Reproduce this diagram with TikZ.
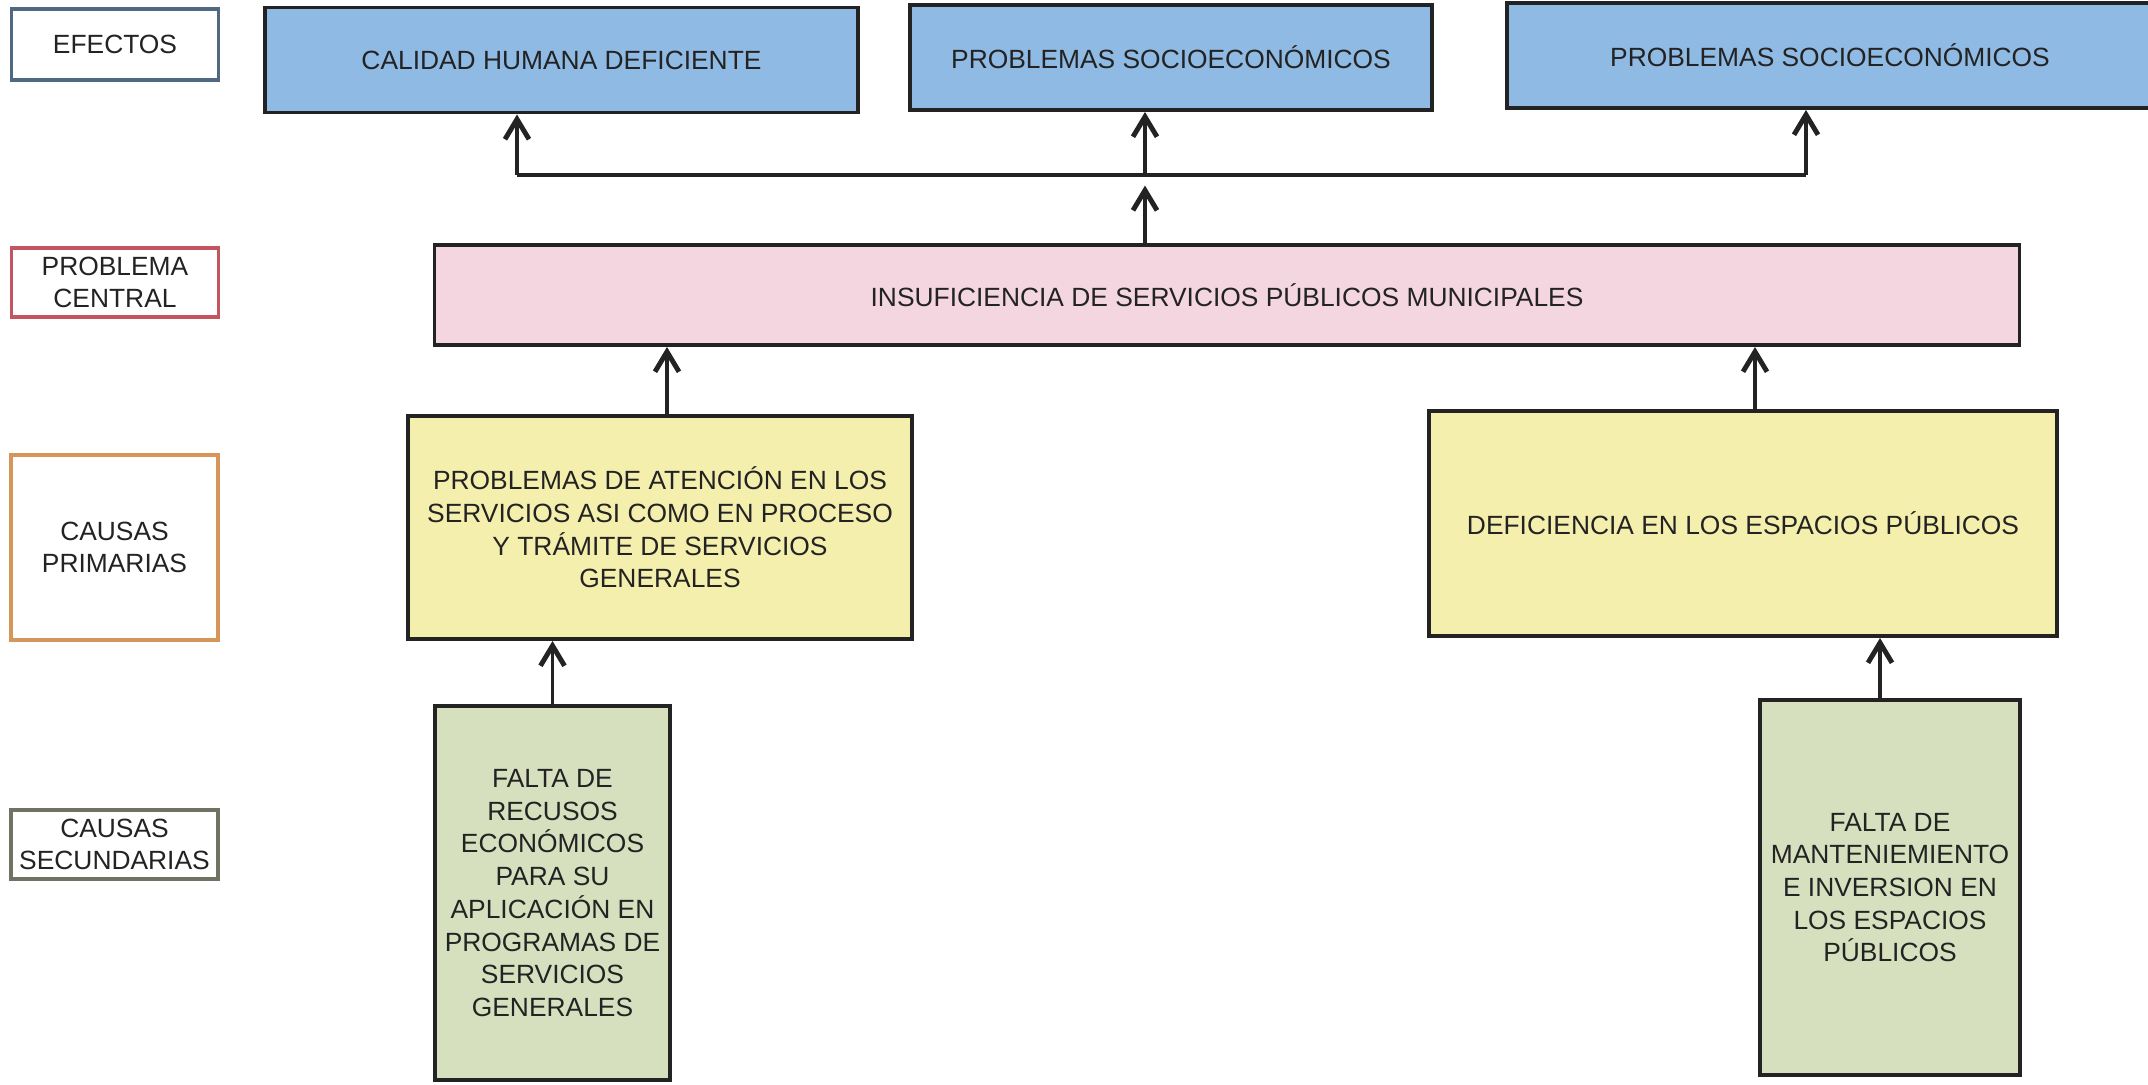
\documentclass[tikz,border=0pt]{standalone}
\usepackage{fontspec}
\setmainfont{Liberation Sans}
\usetikzlibrary{arrows.meta}
\definecolor{azul}{RGB}{143,186,228}
\definecolor{rosa}{RGB}{243,214,224}
\definecolor{amarillo}{RGB}{245,239,174}
\definecolor{verde}{RGB}{214,224,190}
\definecolor{bordeA}{RGB}{80,105,130}
\definecolor{bordeR}{RGB}{196,84,96}
\definecolor{bordeN}{RGB}{214,150,90}
\definecolor{bordeV}{RGB}{110,115,100}
\definecolor{tinta}{RGB}{35,35,35}
\begin{document}
\begin{tikzpicture}[x=0.01cm,y=-0.01cm,
  caja/.style={draw=tinta,line width=1.1pt,text=tinta,align=center,inner sep=2pt,
    font=\fontsize{7.5}{9.3}\selectfont},
  efecto/.style={caja,fill=azul,minimum height=1.05cm},
  leyenda/.style={line width=0.9pt,fill=white,text=tinta,align=center,inner sep=1pt,
    minimum width=2.07cm,font=\fontsize{7.5}{9.2}\selectfont},
  linea/.style={draw=tinta,line width=0.9pt},
  flecha/.style={linea,-{Straight Barb[length=2mm,width=2.4mm,line width=1.4pt]}}]
\useasboundingbox (0,0) rectangle (2148,1085);

% leyenda
\node[leyenda,draw=bordeA,minimum height=0.71cm] (lefe) at (115,44.5) {EFECTOS};
\node[leyenda,draw=bordeR,minimum height=0.69cm] (lcen) at (115,282.5) {PROBLEMA\\CENTRAL};
\node[leyenda,draw=bordeN,minimum height=1.85cm] (lpri) at (114.5,547.5) {CAUSAS\\PRIMARIAS};
\node[leyenda,draw=bordeV,minimum height=0.69cm] (lsec) at (114.5,844.5) {CAUSAS\\SECUNDARIAS};

% efectos
\node[efecto,minimum width=5.93cm] (ef1) at (561.5,60) {CALIDAD HUMANA DEFICIENTE};
\node[efecto,minimum width=5.22cm] (ef2) at (1171,57.5) {PROBLEMAS SOCIOECONÓMICOS};
\node[efecto,minimum width=6.46cm] (ef3) at (1830,55.5) {PROBLEMAS SOCIOECONÓMICOS};

% problema central
\node[caja,fill=rosa,minimum width=15.84cm,minimum height=1cm] (central) at (1227,295)
  {INSUFICIENCIA DE SERVICIOS PÚBLICOS MUNICIPALES};

% causas
\node[caja,fill=amarillo,minimum width=5.04cm,minimum height=2.23cm] (pri1) at (660,527.5)
  {PROBLEMAS DE ATENCIÓN EN LOS\\SERVICIOS ASI COMO EN PROCESO\\Y TRÁMITE DE SERVICIOS\\GENERALES};
\node[caja,fill=amarillo,minimum width=6.28cm,minimum height=2.25cm] (pri2) at (1743,523.5)
  {DEFICIENCIA EN LOS ESPACIOS PÚBLICOS};
\node[caja,fill=verde,minimum width=2.35cm,minimum height=3.74cm] (sec1) at (552.5,893)
  {FALTA DE\\RECUSOS\\ECONÓMICOS\\PARA SU\\APLICACIÓN EN\\PROGRAMAS DE\\SERVICIOS\\GENERALES};
\node[caja,fill=verde,minimum width=2.6cm,minimum height=3.75cm] (sec2) at (1890,887.5)
  {FALTA DE\\MANTENIEMIENTO\\E INVERSION EN\\LOS ESPACIOS\\PÚBLICOS};

% flechas
\coordinate (bus) at (1145,175);
\coordinate (b1) at (517,175);
\coordinate (b3) at (1806,175);
\draw[linea] (b1) -- (b3);
\draw[flecha,shorten >=3pt] (central.north -| bus) -- (bus);
\draw[flecha] (b1) -- (ef1.south -| b1);
\draw[flecha] (bus) -- (ef2.south -| bus);
\draw[flecha] (b3) -- (ef3.south -| b3);
\draw[flecha] ([xshift=0.07cm]pri1.north) -- ([xshift=0.07cm]pri1.north |- central.south);
\draw[flecha] ([xshift=0.12cm]pri2.north) -- ([xshift=0.12cm]pri2.north |- central.south);
\draw[flecha] (sec1.north) -- (pri1.south -| sec1.north);
\draw[flecha] ([xshift=-0.1cm]sec2.north) -- ([xshift=-0.1cm]sec2.north |- pri2.south);
\end{tikzpicture}
\end{document}
